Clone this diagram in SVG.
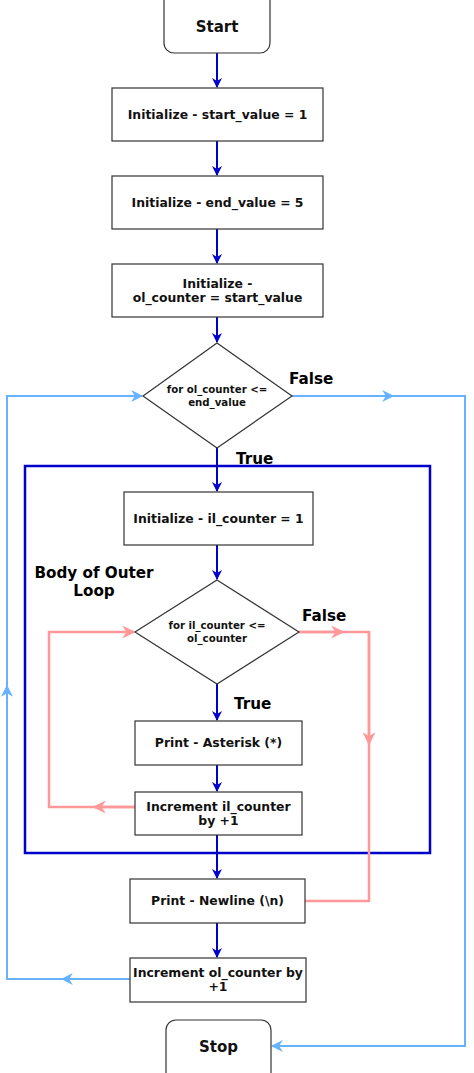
<svg xmlns="http://www.w3.org/2000/svg" width="474" height="1073" viewBox="0 0 474 1073">
<style>
.node{fill:#fff;stroke:#333;stroke-width:1.2}
.t{font-family:"DejaVu Sans",Verdana,sans-serif;font-weight:bold;font-size:12.4px;fill:#111;text-anchor:middle}
.d{font-size:10.2px}
.big{font-size:15px}
.lbl{font-family:"DejaVu Sans",Verdana,sans-serif;font-weight:bold;font-size:15.2px;fill:#000}
.db{fill:none;stroke:#0000CC;stroke-width:2}
.lb{fill:none;stroke:#66B2FF;stroke-width:2}
.pk{fill:none;stroke:#FF9999;stroke-width:2.5}
</style>
<defs>
<marker id="ad" viewBox="0 0 10 10" refX="9" refY="5" markerWidth="10" markerHeight="10" markerUnits="userSpaceOnUse" orient="auto"><path d="M0,0 L10,5 L0,10 L3,5 z" fill="#0000CC"/></marker>
<marker id="al" viewBox="0 0 10 10" refX="9" refY="5" markerWidth="12" markerHeight="12" markerUnits="userSpaceOnUse" orient="auto"><path d="M0,0 L10,5 L0,10 L3,5 z" fill="#66B2FF"/></marker>
<marker id="ap" viewBox="0 0 10 10" refX="9" refY="5" markerWidth="13" markerHeight="13" markerUnits="userSpaceOnUse" orient="auto"><path d="M0,0 L10,5 L0,10 L3,5 z" fill="#FF9999"/></marker>
</defs>
<rect width="474" height="1073" fill="#fff"/>
<rect id="outer-body" x="25" y="466" width="405" height="387" fill="none" stroke="#0000CC" stroke-width="2.5"/>
<g id="connectors">
<path class="db" d="M217,53 V87" marker-end="url(#ad)"/>
<path class="db" d="M217,141 V175" marker-end="url(#ad)"/>
<path class="db" d="M217,229 V263" marker-end="url(#ad)"/>
<path class="db" d="M217,317 V342" marker-end="url(#ad)"/>
<path class="db" d="M217,448 V491" marker-end="url(#ad)"/>
<path class="db" d="M217,545 V579" marker-end="url(#ad)"/>
<path class="db" d="M217,684 V720" marker-end="url(#ad)"/>
<path class="db" d="M217,765 V791" marker-end="url(#ad)"/>
<path class="db" d="M217,835 V878" marker-end="url(#ad)"/>
<path class="db" d="M217,923 V957" marker-end="url(#ad)"/>
<path class="pk" d="M299,632 H369 V901 H305"/>
<path class="pk" d="M299,632 H343" marker-end="url(#ap)"/>
<path class="pk" d="M369,632 V744" marker-end="url(#ap)"/>
<path class="pk" d="M135,807 H49 V632 H134" marker-end="url(#ap)"/>
<path class="pk" d="M135,807 H94" marker-end="url(#ap)"/>
<path class="lb" d="M130,979 H7 V396 H142" marker-end="url(#al)"/>
<path class="lb" d="M130,979 H62" marker-end="url(#al)"/>
<path class="lb" d="M7,979 V686" marker-end="url(#al)"/>
<path class="lb" d="M292,396 H465 V1046 H272" marker-end="url(#al)"/>
<path class="lb" d="M292,396 H393" marker-end="url(#al)"/>
</g>
<g id="start"><rect class="node" x="164" y="-10" width="106" height="63" rx="10"/><text class="t big" x="217" y="32">Start</text></g>
<g id="init-start"><rect class="node" x="112" y="88" width="211" height="53"/><text class="t" x="217.5" y="119">Initialize - start_value = 1</text></g>
<g id="init-end"><rect class="node" x="112" y="176" width="211" height="53"/><text class="t" x="217.5" y="207">Initialize - end_value = 5</text></g>
<g id="init-ol"><rect class="node" x="112" y="264" width="211" height="53"/><text class="t" x="217.5" y="288">Initialize -</text><text class="t" x="217.5" y="302">ol_counter = start_value</text></g>
<g id="cond-outer"><polygon class="node" points="217,343 292,396 217,448 143,396"/><text class="t d" x="217" y="393">for ol_counter &lt;=</text><text class="t d" x="217" y="406">end_value</text></g>
<g id="init-il"><rect class="node" x="124" y="492" width="189" height="53"/><text class="t" x="218.5" y="523">Initialize - il_counter = 1</text></g>
<g id="cond-inner"><polygon class="node" points="217,580 299,632 217,684 135,632"/><text class="t d" x="217" y="629">for il_counter &lt;=</text><text class="t d" x="217" y="642">ol_counter</text></g>
<g id="print-asterisk"><rect class="node" x="135" y="721" width="167" height="44"/><text class="t" x="218.5" y="747">Print - Asterisk (*)</text></g>
<g id="inc-il"><rect class="node" x="135" y="792" width="167" height="43"/><text class="t" x="218.5" y="811">Increment il_counter</text><text class="t" x="218.5" y="825">by +1</text></g>
<g id="print-newline"><rect class="node" x="130" y="879" width="175" height="44"/><text class="t" x="217.5" y="905">Print - Newline (\n)</text></g>
<g id="inc-ol"><rect class="node" x="130" y="958" width="176" height="44"/><text class="t" x="218" y="977">Increment ol_counter by</text><text class="t" x="218" y="991">+1</text></g>
<g id="stop"><rect class="node" x="166" y="1020" width="105" height="63" rx="10"/><text class="t big" x="218.5" y="1052">Stop</text></g>
<g id="labels">
<text class="lbl" x="289" y="384">False</text>
<text class="lbl" x="236" y="464">True</text>
<text class="lbl" x="94" y="578" text-anchor="middle">Body of Outer</text>
<text class="lbl" x="94" y="596" text-anchor="middle">Loop</text>
<text class="lbl" x="302" y="621">False</text>
<text class="lbl" x="234" y="709">True</text>
</g>
</svg>
